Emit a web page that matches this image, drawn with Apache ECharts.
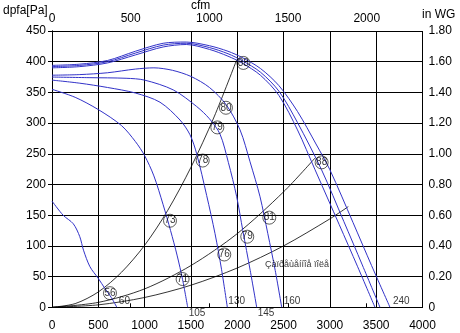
<!DOCTYPE html>
<html>
<head>
<meta charset="utf-8">
<script src="https://cdn.jsdelivr.net/npm/echarts@6/dist/echarts.min.js"></script>
<style>
  html, body { margin: 0; padding: 0; background: #fff; }
  #chart { width: 460px; height: 333px; }
</style>
</head>
<body>
<div id="chart"></div>
<script>
// Fan performance curves: [airflow m3/h, static pressure Pa]
const fan60 = [[0,173],[120,150],[230,136],[300,115],[340,93],[410,66],[500,47],[570,31],[640,16],[700,0]];
const fan105 = [[0,355],[250,342],[500,322],[750,296],[900,270],[1000,247],[1100,214],[1200,167],[1280,125],[1350,85],[1410,45],[1465,0]];
const fan130 = [[0,370],[300,365],[600,358],[900,349],[1166,334],[1382,305],[1490,281],[1562,250],[1670,182],[1760,120],[1830,62],[1893,0]];
const fan145 = [[0,375],[400,374],[800,373],[1000,370],[1310,354],[1562,327],[1700,307],[1814,282],[1904,236],[1994,180],[2060,125],[2140,60],[2210,0]];
const fan160 = [[0,378],[300,379],[600,382],[900,388],[1100,390],[1300,386],[1500,376],[1700,358],[1880,330],[2030,289],[2138,237],[2246,180],[2330,120],[2410,60],[2480,0]];
const fan240a = [[0,390],[300,392],[600,398],[900,411],[1200,424],[1450,428],[1700,420],[1900,409],[2050,398],[2250,378],[2450,345],[2650,289],[2840,224],[3100,135],[3300,66],[3487,0]];
const fan240b = [[0,392],[300,394],[600,400],[900,414],[1200,427],[1450,430],[1700,423],[1900,413],[2050,402],[2250,383],[2450,352],[2650,301],[2910,224],[3150,140],[3350,69],[3541,0]];
const fan240c = [[0,394],[300,396],[600,402],[900,417],[1200,430],[1450,432],[1700,426],[1900,417],[2050,407],[2250,389],[2450,361],[2650,319],[2850,266],[3000,224],[3250,138],[3450,68],[3649,0]];

// System resistance curves through the origin
const sysHigh = [[0,0],[250,6],[500,25],[750,57],[1000,101],[1250,158],[1500,228],[1750,310],[1994,403]];
const sysMid = [[0,0],[500,8],[1000,30],[1500,68],[2000,120],[2500,188],[2839,243]];
const sysLow = [[0,0],[500,4],[1000,16],[1500,36],[2000,64],[2500,100],[3000,144],[3199,164]];

// Sound level markers: [airflow, pressure, dB(A)]
const soundMarks = [
  [626,23,'56'],[1274,141,'73'],[1627,239,'78'],[1785,293,'79'],[1878,325,'80'],[2066,398,'88'],
  [1410,46,'71'],[1860,86,'76'],[2108,115,'79'],[2346,146,'81'],[2911,236,'88']
];

// Speed labels at the free-blow end of each curve
const speedNames = ['60','105','130','145','160','240'];
const speedCurves = [fan60, fan105, fan130, fan145, fan160, fan240c];

// Restricted operating zone note: [airflow, pressure, text]
const zoneNote = [2645, 70, 'Çàïðåùåííîå ïîëå'];

// Axis tick values
const flowTicks = [0,500,1000,1500,2000,2500,3000,3500,4000];
const cfmTicks = [0,500,1000,1500,2000];
const paMax = 450, wgMax = 1.8, flowMax = 4000;
const M3H_PER_CFM = 1.699;

const FONT = 'Arial, "Liberation Sans", sans-serif';
const BLUE = '#3232c8';
const plain = v => String(Math.round(v));

const fanSeries = [fan60, fan105, fan130, fan145, fan160, fan240a, fan240b, fan240c].map(d => ({
  type: 'line', data: d, smooth: 0.3, showSymbol: false, silent: true, z: 3,
  lineStyle: { color: BLUE, width: 1 }
}));
const sysSeries = [sysHigh, sysMid, sysLow].map(d => ({
  type: 'line', data: d, smooth: 0.3, showSymbol: false, silent: true, z: 2,
  lineStyle: { color: '#000', width: 0.8 }
}));

const endOffsets = [[2,-6],[1,6],[1,-6],[1,6],[2,-6],[3,-6]];
const endLabelSeries = {
  type: 'scatter', symbolSize: 0, silent: true, clip: false, z: 5,
  data: speedCurves.map((c, i) => ({
    value: [c[c.length - 1][0], c[c.length - 1][1], speedNames[i]],
    label: { offset: endOffsets[i] }
  })),
  label: {
    show: true, position: 'inside', align: 'left', verticalAlign: 'middle',
    formatter: p => p.value[2], fontSize: 10, fontFamily: FONT, color: '#000'
  }
};

const markSeries = {
  type: 'scatter', symbol: 'circle', symbolSize: 13, silent: true, z: 6,
  itemStyle: { color: 'rgba(0,0,0,0)', borderColor: '#000', borderWidth: 0.8 },
  data: soundMarks,
  label: {
    show: true, position: 'inside', formatter: p => p.value[2],
    fontSize: 10, fontFamily: FONT, color: '#000'
  }
};

const noteSeries = {
  type: 'scatter', symbolSize: 0, silent: true, z: 5,
  data: [zoneNote],
  label: {
    show: true, position: 'inside', align: 'center', verticalAlign: 'middle',
    formatter: p => p.value[2], fontSize: 9, fontFamily: FONT, color: '#000'
  }
};

const chart = echarts.init(document.getElementById('chart'), null, { renderer: 'canvas' });
chart.setOption({
  animation: false,
  backgroundColor: '#fff',
  textStyle: { fontFamily: FONT },
  grid: { left: 52, top: 31, width: 370.5, height: 276.3, containLabel: false },
  xAxis: [
    {
      type: 'value', position: 'bottom', min: 0, max: flowMax, interval: 500,
      axisLine: { show: true, lineStyle: { color: '#000', width: 1 } },
      axisTick: { show: false },
      axisLabel: { margin: 12, fontSize: 12, color: '#000', fontFamily: FONT, customValues: flowTicks, formatter: plain },
      splitLine: { show: true, lineStyle: { color: '#000', width: 1 } }
    },
    {
      type: 'value', position: 'top', min: 0, max: flowMax / M3H_PER_CFM,
      axisLine: { show: true, lineStyle: { color: '#000', width: 1 } },
      axisTick: { show: true, inside: false, length: 4, lineStyle: { color: '#000' }, customValues: cfmTicks },
      axisLabel: { margin: 6, fontSize: 12, color: '#000', fontFamily: FONT, customValues: cfmTicks, formatter: plain },
      splitLine: { show: false }
    }
  ],
  yAxis: [
    {
      type: 'value', position: 'left', min: 0, max: paMax, interval: 50,
      axisLine: { show: true, lineStyle: { color: '#000', width: 1 } },
      axisTick: { show: true, length: 4, lineStyle: { color: '#000' } },
      axisLabel: { margin: 6, fontSize: 12, color: '#000', fontFamily: FONT, formatter: plain },
      splitLine: { show: true, lineStyle: { color: '#000', width: 1 } }
    },
    {
      type: 'value', position: 'right', min: 0, max: wgMax, interval: 0.2,
      axisLine: { show: true, lineStyle: { color: '#000', width: 1 } },
      axisTick: { show: true, length: 4, lineStyle: { color: '#000' } },
      axisLabel: {
        margin: 6, fontSize: 12, color: '#000', fontFamily: FONT,
        formatter: v => (v === 0 ? '0' : v.toFixed(2))
      },
      splitLine: { show: false }
    }
  ],
  graphic: [
    { type: 'text', left: 3, top: 5, style: { text: 'dpfa[Pa]', fontSize: 12, fontFamily: FONT, fill: '#000' } },
    { type: 'text', left: 191, top: 0, style: { text: 'cfm', fontSize: 12, fontFamily: FONT, fill: '#000' } },
    { type: 'text', left: 422, top: 9, style: { text: 'in WG', fontSize: 12, fontFamily: FONT, fill: '#000' } }
  ],
  series: [...sysSeries, ...fanSeries, endLabelSeries, markSeries, noteSeries]
});
</script>
</body>
</html>
